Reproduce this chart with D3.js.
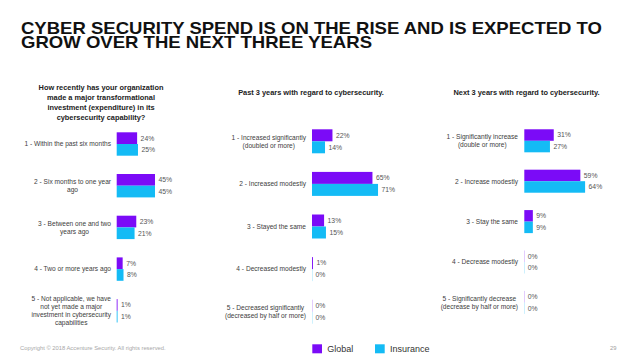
<!DOCTYPE html>
<html>
<head>
<meta charset="utf-8">
<script src="https://cdn.jsdelivr.net/npm/d3@7"></script>
<style>
  html, body { margin: 0; padding: 0; background: #fff; }
  svg { display: block; font-family: "Liberation Sans", Arial, Helvetica, sans-serif; }
</style>
</head>
<body>
<svg id="chart" width="638" height="359"></svg>
<script>
// ---------- DATA ----------
const titleLines = ["CYBER SECURITY SPEND IS ON THE RISE AND IS EXPECTED TO", "GROW OVER THE NEXT THREE YEARS"];
const seriesNames = ["Global", "Insurance"];

const p1Title = ["How recently has your organization", "made a major transformational", "investment (expenditure) in its", "cybersecurity capability?"];
const p1Categories = [
  "1 - Within the past six months",
  "2 - Six months to one year\nago",
  "3 - Between one and two\nyears ago",
  "4 - Two or more years ago",
  "5 - Not applicable, we have\nnot yet made a major\ninvestment in cybersecurity\ncapabilities"
];
const p1Global = [24, 45, 23, 7, 1];
const p1Insurance = [25, 45, 21, 8, 1];

const p2Title = ["Past 3 years with regard to cybersecurity."];
const p2Categories = [
  "1 - Increased significantly\n(doubled or more)",
  "2 - Increased modestly",
  "3 - Stayed the same",
  "4 - Decreased modestly",
  "5 - Decreased significantly\n(decreased by half or more)"
];
const p2Global = [22, 65, 13, 1, 0];
const p2Insurance = [14, 71, 15, 0, 0];

const p3Title = ["Next 3 years with regard to cybersecurity."];
const p3Categories = [
  "1 - Significantly increase\n(double or more)",
  "2 - Increase modestly",
  "3 - Stay the same",
  "4 - Decrease modestly",
  "5 - Significantly decrease\n(decrease by half or more)"
];
const p3Global = [31, 59, 9, 0, 0];
const p3Insurance = [27, 64, 9, 0, 0];

const copyrightText = "Copyright \u00A9 2018 Accenture Security. All rights reserved.";
const pageNumber = "29";

// ---------- STYLE / LAYOUT ----------
const colors = { Global: "#7B0BF7", Insurance: "#14BBF5" };
const svg = d3.select("#chart");

// Main title
const titleBase = [34, 48];
const titleWidths = [581, 351];
const titleText = svg.append("text")
  .attr("font-size", 17).attr("font-weight", "bold")
  .attr("fill", "#111");
titleLines.forEach((t, i) => {
  titleText.append("tspan")
    .attr("x", 21).attr("y", titleBase[i])
    .attr("textLength", titleWidths[i])
    .attr("lengthAdjust", "spacingAndGlyphs")
    .text(t);
});

const panels = [
  { title: p1Title, titleX: 101, titleY: 89.5, cats: p1Categories, g: p1Global, ins: p1Insurance,
    x0: 116.7, w100: 85.1, labelRight: 111, yRange: [123.15, 331.65], pad: 0.439 },
  { title: p2Title, titleX: 311, titleY: 95, cats: p2Categories, g: p2Global, ins: p2Insurance,
    x0: 312, w100: 93, labelRight: 306, yRange: [120.0, 333.0], pad: 0.437 },
  { title: p3Title, titleX: 526.5, titleY: 95, cats: p3Categories, g: p3Global, ins: p3Insurance,
    x0: 524.3, w100: 95, labelRight: 518, yRange: [120.6, 322.6], pad: 0.43 }
];

panels.forEach(p => {
  const g = svg.append("g");
  p.title.forEach((line, i) => {
    g.append("text")
      .attr("x", p.titleX).attr("y", p.titleY + i * 10.3)
      .attr("text-anchor", "middle")
      .attr("font-size", 7.4).attr("font-weight", "bold")
      .attr("fill", "#222")
      .text(line);
  });

  const y = d3.scaleBand().domain(p.cats).range(p.yRange)
    .paddingInner(p.pad).paddingOuter(p.pad / 2);
  const ySub = d3.scaleBand().domain(seriesNames).range([0, y.bandwidth()]);
  const x = d3.scaleLinear().domain([0, 100]).range([p.x0, p.x0 + p.w100]);

  const rows = p.cats.map((c, i) => ({ cat: c, Global: p.g[i], Insurance: p.ins[i] }));

  rows.forEach(r => {
    const lines = r.cat.split("\n");
    const lh = 8.0;
    const cy = y(r.cat) + y.bandwidth() / 2;
    const lg = g.append("g");
    const texts = lines.map((ln, i) => lg.append("text")
      .attr("y", cy + (i - (lines.length - 1) / 2) * lh)
      .attr("dy", "0.35em")
      .attr("text-anchor", "middle")
      .attr("font-size", 6.6)
      .attr("fill", "#404040")
      .text(ln));
    const maxW = d3.max(texts, t => t.node().getComputedTextLength());
    texts.forEach(t => t.attr("x", p.labelRight - maxW / 2));

    seriesNames.forEach(s => {
      const v = r[s];
      const by = y(r.cat) + ySub(s);
      const w = x(v) - x(0);
      g.append("rect")
        .attr("x", x(0)).attr("y", by)
        .attr("width", Math.max(w, 0.6))
        .attr("height", ySub.bandwidth())
        .attr("fill", colors[s])
        .attr("opacity", v === 0 ? 0.35 : 1);
      g.append("text")
        .attr("x", x(v) + 3.5)
        .attr("y", by + ySub.bandwidth() / 2)
        .attr("dy", "0.35em")
        .attr("font-size", 6.8)
        .attr("fill", "#555")
        .text(v + "%");
    });
  });
});

// Footer
svg.append("text").attr("x", 20).attr("y", 350.3)
  .attr("font-size", 5.8).attr("fill", "#a8a8a8").text(copyrightText);
svg.append("text").attr("x", 610).attr("y", 350.3)
  .attr("font-size", 5.8).attr("fill", "#a0a0a0").text(pageNumber);

// Legend
const legendX = [312.3, 375];
seriesNames.forEach((s, i) => {
  svg.append("rect").attr("x", legendX[i]).attr("y", 344.3)
    .attr("width", 9.7).attr("height", 9).attr("fill", colors[s]);
  svg.append("text").attr("x", legendX[i] + 15).attr("y", 352.3)
    .attr("font-size", 9).attr("fill", "#333").text(s);
});
</script>
</body>
</html>
